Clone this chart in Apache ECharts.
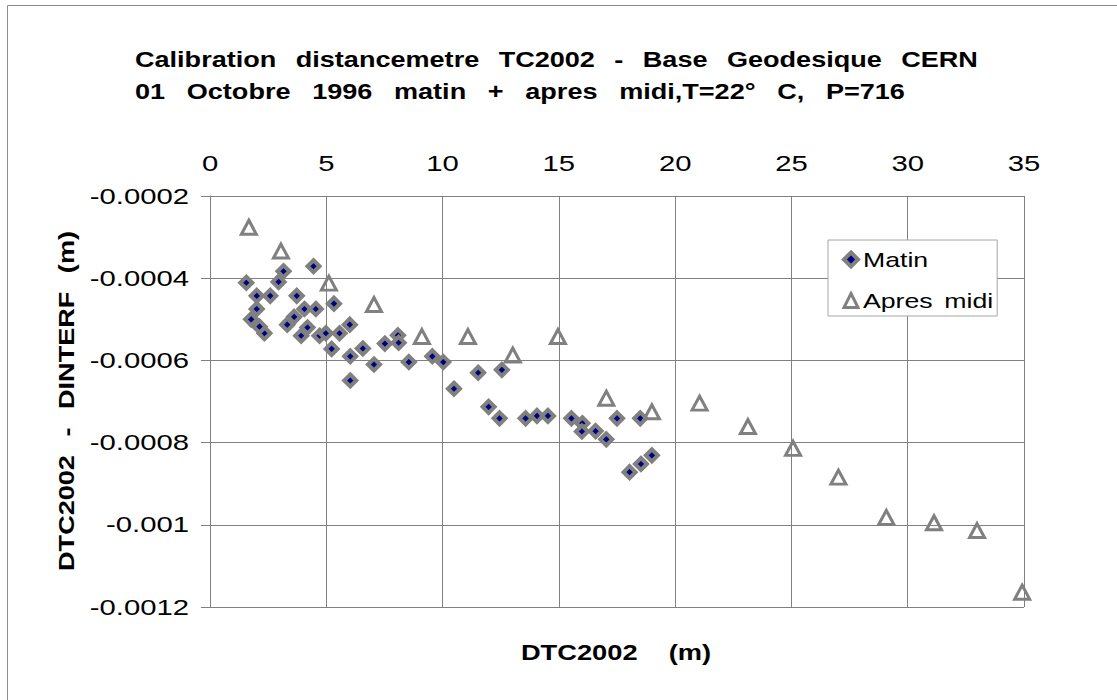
<!DOCTYPE html>
<html>
<head>
<meta charset="utf-8">
<script src="https://cdn.jsdelivr.net/npm/echarts@6/dist/echarts.min.js"></script>
<style>
  html, body { margin: 0; padding: 0; background: #fff; }
  #chart { width: 1117px; height: 700px; }
</style>
</head>
<body>
<div id="chart"></div>
<script>
// ---- data ----
const titleLines = [
  'Calibration distancemetre TC2002 - Base Geodesique CERN',
  '01 Octobre 1996 matin + apres midi,T=22° C, P=716'
];
const xAxisName = 'DTC2002 (m)';
const yAxisName = 'DTC2002 - DINTERF (m)';
const seriesNames = ['Matin', 'Apres midi'];

const matinX = [1.56, 3.16, 2.95, 4.45, 2.01, 2.59, 3.73, 2.01, 4.06, 4.55,
                5.33, 1.77, 3.62, 3.32, 2.34, 2.13, 4.19, 3.92, 4.71, 4.98,
                5.57, 6.01, 5.23, 6.03, 6.57, 7.05, 6.03, 7.52, 8.08, 8.11,
                8.55, 9.56, 10.03, 10.49, 11.53, 12.55, 11.98, 12.45, 13.57, 14.06,
                14.53, 15.54, 16.01, 15.99, 16.58, 17.04, 17.50, 18.50, 18.04, 18.53,
                19.00];
const matinY = [-0.000411, -0.000383, -0.000409, -0.000371, -0.000443, -0.000443, -0.000443, -0.000475, -0.000475, -0.000475,
                -0.000462, -0.000500, -0.000494, -0.000513, -0.000534, -0.000518, -0.000520, -0.000540, -0.000540, -0.000534,
                -0.000534, -0.000513, -0.000572, -0.000590, -0.000571, -0.000610, -0.000649, -0.000559, -0.000539, -0.000557,
                -0.000604, -0.000590, -0.000604, -0.000669, -0.000630, -0.000623, -0.000713, -0.000741, -0.000741, -0.000735,
                -0.000735, -0.000741, -0.000753, -0.000773, -0.000772, -0.000792, -0.000741, -0.000741, -0.000872, -0.000852,
                -0.000831];
const apresX = [1.67, 3.05, 5.11, 7.05, 9.11, 11.09, 13.02, 14.96, 17.04, 19.00,
                21.05, 23.13, 25.07, 27.02, 29.08, 31.13, 32.98, 34.92];
const apresY = [-0.000276, -0.000334, -0.000412, -0.000464, -0.000542, -0.000542, -0.000587, -0.000542, -0.000692, -0.000725,
                -0.000704, -0.000761, -0.000814, -0.000884, -0.000982, -0.000995, -0.001014, -0.001164];

const xMin = 0, xMax = 35, xStep = 5;
const yMin = -0.0012, yMax = -0.0002, yStep = 0.0002;

// ---- chart ----
const FONT = "'Liberation Sans', Arial, sans-serif";
const GRAY = '#808080';
const dom = document.getElementById('chart');
const chart = echarts.init(dom, null, { renderer: 'svg', width: 1117, height: 700 });

const zip = (xs, ys) => xs.map((x, i) => [x, ys[i]]);

const option = {
  animation: false,
  backgroundColor: '#ffffff',
  title: {
    text: titleLines.join('\n'),
    left: 135,
    top: 43,
    padding: 0,
    textStyle: { fontFamily: FONT, fontSize: 22, fontWeight: 'bold', color: '#000', lineHeight: 32 }
  },
  grid: { left: 210, top: 196, width: 814, height: 411, containLabel: false },
  xAxis: {
    type: 'value',
    position: 'top',
    min: xMin, max: xMax, interval: xStep,
    axisLine: { show: false },
    axisTick: { show: false },
    axisLabel: { margin: 22, fontFamily: FONT, fontSize: 22, color: '#000' },
    splitLine: { show: true, lineStyle: { color: GRAY, width: 1 } }
  },
  yAxis: {
    type: 'value',
    min: yMin, max: yMax, interval: yStep,
    axisLine: { show: true, onZero: false, lineStyle: { color: GRAY, width: 1 } },
    axisTick: { show: true, length: 9, lineStyle: { color: GRAY, width: 1 } },
    axisLabel: {
      margin: 21, fontFamily: FONT, fontSize: 22, color: '#000',
      formatter: v => String(Number(v.toFixed(4)))
    },
    splitLine: { show: true, lineStyle: { color: GRAY, width: 1 } }
  },
  legend: {
    orient: 'vertical',
    left: 828, top: 240,
    padding: [9, 35, 5, 14],
    itemGap: 20,
    itemWidth: 14, itemHeight: 14,
    backgroundColor: '#ffffff',
    borderColor: '#a6a6a6', borderWidth: 1, borderRadius: 0,
    textStyle: { fontFamily: FONT, fontSize: 21, lineHeight: 20, color: '#000' },
    data: [
      { name: seriesNames[0], icon: 'diamond', itemStyle: { color: '#000080', borderColor: GRAY, borderWidth: 4 } },
      { name: seriesNames[1], icon: 'triangle', itemStyle: { color: 'rgba(0,0,0,0)', borderColor: GRAY, borderWidth: 3 } }
    ]
  },
  graphic: [
    { type: 'rect', silent: true, z: -10,
      shape: { x: 7.5, y: 5.5, width: 1200, height: 800 },
      style: { fill: 'none', stroke: '#8c8c8c', lineWidth: 1 } },
    { type: 'text', silent: true, x: 616, y: 652,
      style: { text: xAxisName, font: 'bold 22px ' + FONT, fill: '#000', align: 'center', verticalAlign: 'middle' } },
    { type: 'text', silent: true, x: 66, y: 401, rotation: Math.PI / 2,
      style: { text: yAxisName, font: 'bold 22px ' + FONT, fill: '#000', align: 'center', verticalAlign: 'middle' } }
  ],
  series: [
    {
      name: seriesNames[0], type: 'scatter',
      symbol: 'diamond', symbolSize: 12,
      itemStyle: { color: '#000080', borderColor: GRAY, borderWidth: 4, opacity: 1 },
      data: zip(matinX, matinY), z: 2
    },
    {
      name: seriesNames[1], type: 'scatter',
      symbol: 'triangle', symbolSize: [15, 14],
      itemStyle: { color: 'rgba(0,0,0,0)', borderColor: GRAY, borderWidth: 3, opacity: 1 },
      data: zip(apresX, apresY), z: 3
    }
  ]
};

chart.setOption(option);

// The reference text is drawn horizontally stretched (old Excel rendering):
// widen each text around its own anchor point, and add its word spacing.
function styleText() {
  dom.querySelectorAll('svg text').forEach(t => {
    const s = t.textContent;
    let sx = 1.33, ws = 0;
    if (s === titleLines[0]) { sx = 1.23; ws = 9.7; }
    else if (s === titleLines[1]) { sx = 1.23; ws = 11.5; }
    else if (s === xAxisName) { sx = 1.24; ws = 19; }
    else if (s === yAxisName) { sx = 1.23; ws = 9; }
    else if (seriesNames.includes(s)) { sx = 1.27; ws = 3.4; }
    t.style.wordSpacing = ws + 'px';
    const cur = t.getAttribute('transform') || '';
    if (t.dataset.applied === cur && cur !== '') return;
    const x = parseFloat(t.getAttribute('x') || '0');
    const y = parseFloat(t.getAttribute('y') || '0');
    const next = (cur + ' translate(' + x + ' ' + y + ') scale(' + sx + ' 1) translate(' + (-x) + ' ' + (-y) + ')').trim();
    t.setAttribute('transform', next);
    t.dataset.applied = next;
  });
}
try { chart.getZr().flush(); } catch (e) {}
styleText();
chart.on('finished', styleText);
setTimeout(styleText, 0);
setTimeout(styleText, 100);
setTimeout(styleText, 400);
</script>
</body>
</html>
